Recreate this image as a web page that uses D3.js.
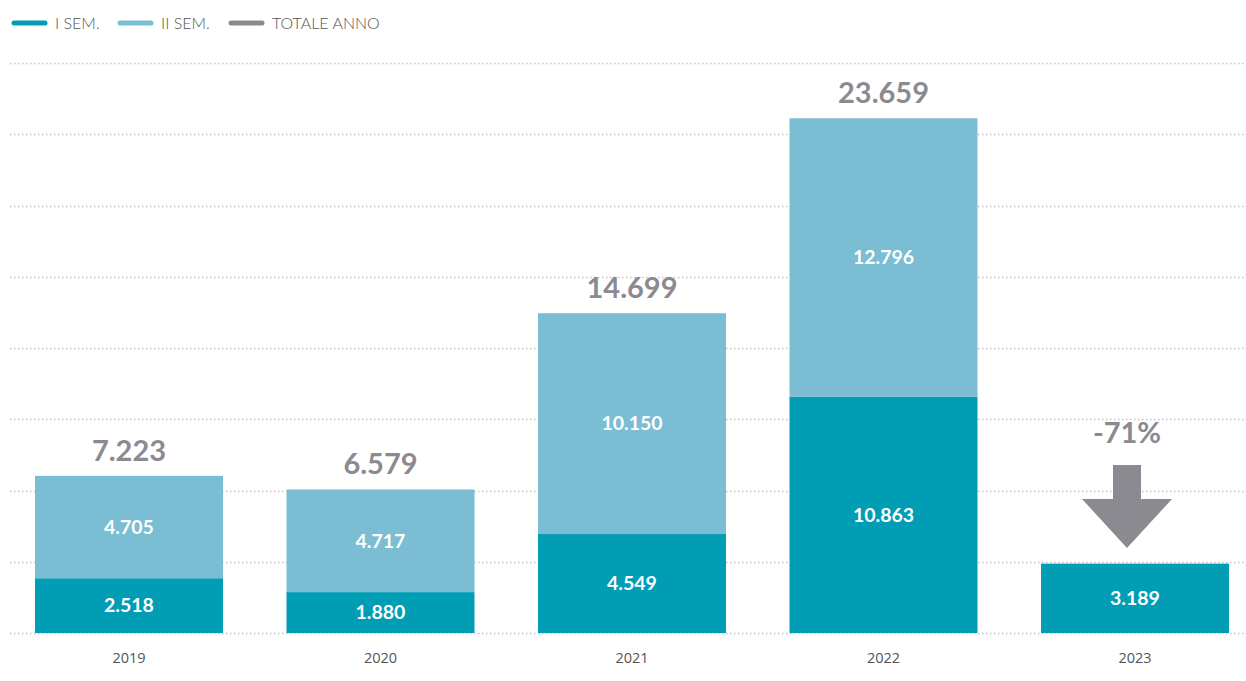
<!DOCTYPE html>
<html>
<head>
<meta charset="utf-8">
<script src="https://cdn.jsdelivr.net/npm/d3@7"></script>
<style>
    body { margin: 0; background: #fff; }
    svg { display: block; font-family: Lato, "Open Sans", sans-serif; }
</style>
</head>
<body>
<div class="chart-container"></div>
<script>
const years = ["2019", "2020", "2021", "2022", "2023"];
const sem1 = [2518, 1880, 4549, 10863, 3189];
const sem2 = [4705, 4717, 10150, 12796, null];
const totalLabels = ["7.223", "6.579", "14.699", "23.659", null];
const changeLabel = "-71%";
const legendItems = ["I SEM.", "II SEM.", "TOTALE ANNO"];

const colors = { sem1: "#009db5", sem2: "#7bbdd3", total: "#8b8a90" };

const w = 1246;
const h = 681;
const baseY = 633;
const topY = 63;

const fmt = (v) => v.toLocaleString("de-DE");

const svg = d3.select(".chart-container")
    .append("svg")
    .attr("width", w)
    .attr("height", h);

const xScale = d3.scaleBand()
    .domain(years)
    .range([35, 1229])
    .paddingInner(0.2525)
    .paddingOuter(0);

const yScale = d3.scaleLinear()
    .domain([0, 26200])
    .range([baseY, topY]);

// dotted gridlines
const gridTicks = d3.range(0, 26201, 3275);
svg.append("g")
    .selectAll("line")
    .data(gridTicks)
    .enter()
    .append("line")
    .attr("x1", 10)
    .attr("x2", w)
    .attr("y1", (d) => Math.round(yScale(d)) + 0.5)
    .attr("y2", (d) => Math.round(yScale(d)) + 0.5)
    .attr("stroke", "#c4c4c8")
    .attr("stroke-width", 1.3)
    .attr("stroke-dasharray", "1.5,2.5");

// bars
const bars = svg.append("g");
years.forEach((year, i) => {
    const x = xScale(year);
    const bw = xScale.bandwidth();
    const y1 = yScale(sem1[i]);
    bars.append("rect")
        .attr("x", x).attr("width", bw)
        .attr("y", y1).attr("height", baseY - y1)
        .attr("fill", colors.sem1);
    bars.append("text")
        .attr("x", x + bw / 2)
        .attr("y", (y1 + baseY) / 2)
        .attr("dy", "0.35em")
        .attr("text-anchor", "middle")
        .attr("fill", "#fff")
        .style("font-size", "19.5px")
        .style("font-weight", "700")
        .text(fmt(sem1[i]));

    if (sem2[i] != null) {
        const y2 = yScale(sem1[i] + sem2[i]);
        bars.append("rect")
            .attr("x", x).attr("width", bw)
            .attr("y", y2).attr("height", y1 - y2)
            .attr("fill", colors.sem2);
        bars.append("text")
            .attr("x", x + bw / 2)
            .attr("y", (y2 + y1) / 2)
            .attr("dy", "0.35em")
            .attr("text-anchor", "middle")
            .attr("fill", "#fff")
            .style("font-size", "19.5px")
            .style("font-weight", "700")
            .text(fmt(sem2[i]));
        bars.append("text")
            .attr("x", x + bw / 2)
            .attr("y", y2 - 15)
            .attr("text-anchor", "middle")
            .attr("fill", colors.total)
            .style("font-size", "29px")
            .style("font-weight", "700")
            .text(totalLabels[i]);
    }
});

// down arrow and change for last year
const lastX = xScale(years[years.length - 1]) + xScale.bandwidth() / 2 - 8;
const arrow = d3.path();
arrow.moveTo(lastX - 14, 465);
arrow.lineTo(lastX + 14, 465);
arrow.lineTo(lastX + 14, 499);
arrow.lineTo(lastX + 45, 499);
arrow.lineTo(lastX, 548);
arrow.lineTo(lastX - 45, 499);
arrow.lineTo(lastX - 14, 499);
arrow.closePath();
svg.append("path")
    .attr("d", arrow.toString())
    .attr("fill", colors.total);
svg.append("text")
    .attr("x", lastX)
    .attr("y", 443)
    .attr("text-anchor", "middle")
    .attr("fill", colors.total)
    .style("font-size", "29px")
    .style("font-weight", "700")
    .text(changeLabel);

// x axis labels
const xAxis = d3.axisBottom(xScale).tickSize(0).tickPadding(20);
svg.append("g")
    .attr("transform", `translate(0,${baseY})`)
    .call(xAxis)
    .call((g) => g.select(".domain").remove())
    .selectAll("text")
    .attr("fill", "#555")
    .style("font-family", "'Open Sans', sans-serif")
    .style("font-size", "14.5px");

// legend
const legendX = [12, 118, 229];
const legendColors = [colors.sem1, colors.sem2, colors.total];
const legend = svg.append("g");
legendItems.forEach((label, i) => {
    legend.append("line")
        .attr("x1", legendX[i] + 2).attr("x2", legendX[i] + 33)
        .attr("y1", 23).attr("y2", 23)
        .attr("stroke", legendColors[i])
        .attr("stroke-width", 5)
        .attr("stroke-linecap", "round");
    legend.append("text")
        .attr("x", legendX[i] + 43)
        .attr("y", 23)
        .attr("dy", "0.35em")
        .attr("fill", "#555")
        .style("font-size", "16px")
        .style("font-weight", "300")
        .text(label);
});
</script>
</body>
</html>
